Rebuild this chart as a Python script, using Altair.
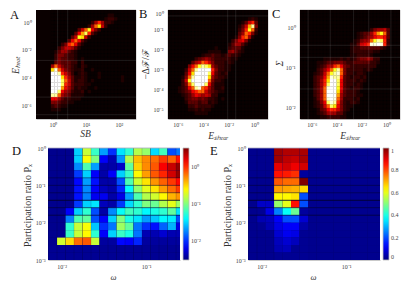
import altair as alt
import pandas as pd

FONT = "Liberation Serif"
HOT_D = [0, 2, 5, 7.5, 11.5, 15.5]
HOT_R = ["#0a0000", "#380000", "#a00000", "#ff0000", "#ffff00", "#ffffff"]
JET_S = [0, 0.125, 0.375, 0.625, 0.875, 1]
JET_R = ["#00007f", "#0000ff", "#00ffff", "#ffff00", "#ff0000", "#7f0000"]

# Panel rows: row index -> (first column, intensities on a 0..20 scale)
A_ROWS = {
    1: (17, [1, 1]), 2: (16, [1, 2, 2, 1]), 3: (12, [2, 5, 8, 5, 2, 2, 1]),
    4: (11, [2, 5, 9, 11, 6, 2]), 5: (8, [3, 6, 9, 12, 7, 4, 2]),
    6: (7, [3, 7, 10, 13, 8, 3, 1]), 7: (6, [3, 6, 12, 11, 6, 2]),
    8: (5, [3, 7, 9, 7, 3, 1]), 9: (3, [2, 4, 8, 9, 7, 3, 1]),
    10: (2, [2, 4, 6, 6, 5, 3, 1]), 11: (1, [1, 3, 5, 5, 3, 2, 1]),
    12: (1, [2, 4, 4, 3, 2, 2, 1]), 13: (1, [2, 4, 3, 3, 2, 2, 1, 0, 1]),
    14: (1, [3, 4, 3, 3, 3, 2, 2, 0, 2]), 15: (0, [5, 9, 6, 4, 3, 3, 2, 1, 0, 2, 1]),
    16: (0, [11, 15, 9, 6, 4, 3, 2, 1, 1, 2, 0, 0, 1]),
    17: (0, [16, 19, 14, 8, 6, 4, 2, 0, 1, 2, 1, 0, 0, 0, 1]),
    18: (0, [19, 20, 18, 11, 8, 5, 3, 1, 1, 2, 1, 0, 0, 0, 1, 0, 0, 0, 0, 0, 0, 1]),
    19: (0, [20, 20, 20, 13, 9, 6, 3, 1, 2, 2, 1, 0, 1, 0, 0, 0, 0, 0, 0, 0, 0, 1]),
    20: (0, [20, 20, 19, 13, 8, 6, 3, 2, 2, 2, 1, 1]),
    21: (0, [20, 20, 17, 10, 7, 5, 3, 1, 2, 1, 1, 0, 0, 1]),
    22: (0, [18, 18, 13, 7, 5, 4, 2, 1, 1, 2, 0, 1]),
    23: (0, [14, 14, 9, 5, 4, 3, 1, 1, 1, 1]), 24: (0, [7, 7, 5, 3, 2, 2, 1, 1, 1]),
    25: (0, [4, 4, 3, 2, 2, 1, 1]), 26: (0, [2, 3, 2, 1, 1]), 27: (0, [1, 1, 1]),
}
B_ROWS = {
    2: (24, [1, 2, 1]), 3: (22, [1, 3, 6, 8, 3]), 4: (21, [1, 3, 6, 10, 14, 4]),
    5: (21, [2, 4, 8, 12, 9, 2]), 6: (21, [3, 5, 9, 8, 4, 1]), 7: (20, [1, 4, 8, 9, 5, 1]),
    8: (19, [2, 4, 6, 7, 4, 1]), 9: (18, [1, 3, 5, 5, 3, 1]),
    10: (14, [1, 0, 0, 0, 2, 3, 3, 3, 1]), 11: (12, [1, 1, 1, 1, 0, 0, 4, 5, 3, 2, 1]),
    12: (10, [1, 2, 2, 3, 2, 2, 1, 2, 3, 2, 2, 1]),
    13: (8, [2, 3, 4, 5, 4, 3, 2, 2, 2, 2, 2, 1, 1]),
    14: (7, [3, 5, 6, 9, 8, 6, 4, 2, 2, 2, 1, 2, 1]),
    15: (6, [4, 7, 9, 12, 14, 13, 11, 5, 3, 2, 2, 1, 1]),
    16: (5, [2, 6, 9, 14, 17, 18, 19, 17, 8, 4, 2, 2, 1, 1]),
    17: (5, [3, 7, 11, 16, 20, 20, 20, 13, 7, 3, 2, 1, 2]),
    18: (4, [1, 4, 9, 14, 19, 20, 20, 20, 11, 5, 3, 2, 2, 1]),
    19: (4, [2, 6, 12, 17, 20, 20, 20, 17, 9, 4, 2, 2, 1]),
    20: (4, [2, 4, 9, 13, 18, 20, 19, 13, 7, 3, 1, 1, 1]),
    21: (3, [1, 2, 3, 7, 9, 14, 15, 9, 8, 5, 3, 1, 1, 2]),
    22: (3, [1, 2, 3, 4, 7, 8, 9, 9, 6, 4, 3, 2, 1, 1]),
    23: (4, [1, 2, 3, 5, 7, 6, 5, 6, 5, 2, 2]),
    24: (5, [2, 3, 4, 4, 3, 4, 3, 2, 2, 1, 0, 1]),
    25: (5, [1, 3, 3, 3, 2, 3, 3, 1, 2, 1]), 26: (6, [2, 2, 3, 2, 2, 2, 2, 1]),
    27: (6, [1, 1, 2, 1, 2, 1, 1]), 28: (8, [1, 1, 1, 1]),
}
C_ROWS = {
    5: (21, [2, 4, 5, 5, 6, 3]), 6: (17, [1, 2, 3, 3, 5, 8, 10, 12, 9, 3]),
    7: (17, [1, 2, 3, 4, 5, 7, 8, 8, 7, 3]), 8: (16, [1, 2, 4, 5, 5, 9, 12, 14, 13, 8, 2]),
    9: (15, [1, 1, 3, 6, 7, 8, 15, 15, 16, 15, 8, 2]),
    10: (15, [1, 2, 2, 3, 3, 3, 3, 3, 3, 2, 1]), 11: (15, [1, 2, 2, 2, 2, 2, 2, 1, 1]),
    12: (15, [1, 1, 2, 2, 2, 2, 1]),
    13: (7, [1, 1, 1, 1, 1, 2, 1, 2, 1, 2, 3, 4, 4, 5, 4, 2, 2]),
    14: (5, [1, 1, 2, 3, 3, 4, 4, 4, 3, 2, 2, 3, 3, 3, 3, 3, 2, 2, 1]),
    15: (5, [1, 2, 3, 5, 5, 8, 9, 7, 4, 3, 2, 2, 2, 2, 2, 2, 2, 2]),
    16: (5, [2, 3, 5, 7, 9, 12, 14, 9, 4, 2, 2, 2, 2, 2, 1, 2, 1]),
    17: (4, [1, 2, 3, 6, 9, 12, 14, 15, 9, 4, 2, 2, 1, 2, 2, 1]),
    18: (4, [2, 3, 4, 7, 10, 15, 14, 14, 8, 3, 2, 1, 2, 2, 1, 2]),
    19: (4, [2, 3, 5, 8, 11, 17, 16, 13, 7, 3, 2, 2, 2, 1, 2, 1]),
    20: (4, [2, 3, 5, 8, 13, 18, 17, 13, 7, 3, 2, 2, 1, 2, 1]),
    21: (4, [2, 3, 5, 9, 15, 19, 17, 12, 7, 3, 2, 1, 2, 2, 1]),
    22: (4, [2, 3, 5, 9, 17, 20, 18, 11, 6, 3, 2, 2, 2, 1]),
    23: (4, [2, 3, 5, 9, 17, 20, 17, 10, 5, 3, 2, 2, 2, 1, 1]),
    24: (4, [1, 3, 5, 9, 15, 17, 15, 9, 5, 2, 2, 2, 1, 2]),
    25: (4, [1, 2, 4, 7, 13, 15, 14, 8, 4, 2, 1, 2, 2, 1]),
    26: (4, [1, 2, 3, 6, 9, 13, 11, 7, 4, 2, 1, 1]),
    27: (5, [1, 3, 4, 7, 8, 8, 6, 4, 2, 1]), 28: (5, [1, 2, 3, 5, 5, 5, 3, 3, 1]),
    29: (6, [1, 1, 2, 2, 2, 2, 1, 1]),
}
# Colour-bar positions (0..1) per row, top to bottom, 16 columns
D_ROWS = [
    [.015, .015, .015, .33, .57, .43, .28, .17, .35, .42, .55, .52, .34, .44, .2, .24],
    [.015, .015, .015, .33, .62, .5, .12, .05, .27, .55, .69, .74, .77, .82, .78, .86],
    [.015, .015, .015, .26, .45, .28, .04, .04, .07, .47, .67, .74, .79, .88, .93, .98],
    [.015, .015, .015, .18, .33, .12, .04, .12, .33, .43, .63, .72, .79, .84, .92, .98],
    [.015, .015, .015, .13, .28, .14, .04, .04, .2, .45, .58, .65, .73, .78, .82, .87],
    [.015, .015, .015, .14, .26, .12, .06, .04, .16, .38, .52, .6, .65, .72, .77, .82],
    [.015, .015, .015, .14, .25, .11, .11, .04, .1, .28, .45, .55, .58, .63, .7, .73],
    [.015, .015, .015, .18, .33, .35, .06, .04, .18, .34, .42, .5, .48, .55, .6, .53],
    [.015, .015, .12, .33, .42, .2, .04, .26, .38, .44, .42, .37, .4, .42, .47, .35],
    [.015, .015, .25, .45, .47, .2, .12, .33, .5, .4, .35, .28, .32, .37, .36, .2],
    [.015, .015, .42, .57, .62, .32, .17, .24, .53, .47, .24, .17, .14, .22, .3, .1],
    [.015, .015, .43, .57, .63, .42, .12, .33, .43, .4, .24, .05, .05, .08, .05, .05],
    [.015, .58, .66, .77, .79, .57, .03, .03, .13, .12, .16, .03, .03, .03, .03, .03],
    [.02] * 16,
    [.02] * 16,
]
# E values 0..1 per row; columns 3..6 (all others stay at the floor value)
E_HOT = [
    [.97, .95, .95, .96], [.97, .94, .93, .96], [.9, .92, .89, .92], [.86, .85, .83, .03],
    [.79, .77, .77, 1.0], [.72, .71, .7, .66], [.63, .63, .65, .2], [.52, .6, .86, .2],
    [.25, .38, .48, .03], [.12, .2, .2, .08], [.1, .12, .12, .04], [.08, .11, .1, .02],
    [.06, .08, .06, .02], [.05, .06, .02, .02], [.02, .02, .02, .02],
]
E_LEFT = {7: [.07, .07], 8: [.02, .1], 9: [.05, .06], 10: [.02, .05]}
E_FLOOR = .015

A_XT, A_YT = [1, 10, 100], [1, 1e-2, 1e-4, 1e-6]
B_XT, B_YT = [1e-6, 1e-4, 1e-2, 1], [1, 1e-1, 1e-2, 1e-3, 1e-4, 1e-5]
C_XT, C_YT = [1e-6, 1e-4, 1e-2, 1], [1, 1e-1, 1e-2]
DE_XT, DE_YT = [1e-2, 1e-1], [1, 1e-1, 1e-2, 1e-3]

A_HL, A_VL = [-2.77, -5.42, -6.69], [0.14, 0.445]
B_HL, B_VL = [-0.3], [-2.08, -1.45]
C_HL, C_VL = [-0.443, -0.746, -1.544], [-6.3, -4.52, -2.65, -1.43, 0.35]

SUP = "{'0':'⁰','1':'¹','2':'²','-1':'⁻¹','-2':'⁻²','-3':'⁻³','-4':'⁻⁴','-5':'⁻⁵','-6':'⁻⁶'}"
LOG_LABEL = "'10' + " + SUP + "['' + round(log(datum.value) / LN10)]"
EXP_LABEL = "'10' + " + SUP + "['' + datum.value]"


def axis(title, values, tx, ty, offset=0, size=9.5, style="italic", **kw):
    return alt.Axis(
        title=title, values=values, labelExpr=LOG_LABEL, ticks=False, grid=False,
        labelFont=FONT, labelFontSize=6, labelColor="#444", titleFont=FONT, titleFontSize=size,
        titleFontStyle=style,
        titleFontWeight="normal", titleColor="#333", titleX=tx, titleY=ty, titleBaseline="middle",
        titleAlign="center", domainColor="#bbbbbb", domainWidth=0.8, offset=offset, **kw,
    )


def letter(t, x, y):
    return alt.Chart(pd.DataFrame({"t": [t]})).mark_text(
        font=FONT, fontSize=12.5, align="left", baseline="alphabetic", color="#111"
    ).encode(x=alt.value(x), y=alt.value(y), text="t:N")


def heat_panel(rows, name, x_dom, y_dom, x0, dx, ncols, xt, yt, hl, vl, xtitle, ytitle, xax, yax,
               flush=False, ystyle="italic"):
    recs = []
    for r in range(30):
        start, vals = rows.get(r, (0, []))
        for c in range(ncols):
            v = vals[c - start] if start <= c < start + len(vals) else 0
            recs.append({
                "x0": 10 ** (x0 + dx * c), "x1": 10 ** (x0 + dx * (c + 1)),
                "y0": 10 ** (y_dom[0] - (y_dom[0] - y_dom[1]) * r / 30),
                "y1": 10 ** (y_dom[0] - (y_dom[0] - y_dom[1]) * (r + 1) / 30),
                "v": v,
            })
    xs = alt.Scale(type="log", domain=[10 ** x_dom[0], 10 ** x_dom[1]], nice=False, clamp=True)
    ys = alt.Scale(type="log", domain=[10 ** y_dom[1], 10 ** y_dom[0]], nice=False, clamp=True)
    cs = alt.Scale(type="linear", domain=HOT_D, range=HOT_R, clamp=True, interpolate="rgb")
    xa = axis(xtitle, xt, xax[0], xax[1])
    extra = {"labelFlush": 3} if flush else {}
    ya = axis(ytitle, yt, yax[0], yax[1], style=ystyle, domain=False, labelPadding=yax[2], **extra)
    rect = alt.Chart(pd.DataFrame(recs)).mark_rect(strokeWidth=0.25).encode(
        x=alt.X("x0:Q", scale=xs, axis=xa),
        x2="x1:Q",
        y=alt.Y("y0:Q", scale=ys, axis=ya),
        y2="y1:Q",
        color=alt.Color("v:Q", scale=cs, legend=None),
        stroke=alt.Stroke("v:Q", scale=cs, legend=None),
    )
    h = alt.Chart(pd.DataFrame({"y0": [10 ** v for v in hl]})).mark_rule(
        color="#ffffff", opacity=0.13, strokeWidth=0.8
    ).encode(y=alt.Y("y0:Q", scale=ys, axis=ya))
    v = alt.Chart(pd.DataFrame({"x0": [10 ** v for v in vl]})).mark_rule(
        color="#ffffff", opacity=0.13, strokeWidth=0.8
    ).encode(x=alt.X("x0:Q", scale=xs, axis=xa))
    return alt.layer(rect, h, v, name).properties(
        width=100, height=109, view=alt.ViewConfig(fill="#0a0000", stroke=None)
    )


def jet_panel(values, left, title_x, legend, domain, cells_extra, ylab_x, name):
    x_rng = [left, left + 132]
    xs = alt.Scale(type="log", domain=[10 ** -2.162, 10 ** -0.6], range=x_rng, nice=False, clamp=True)
    ys = alt.Scale(type="log", domain=[1e-3, 1], nice=False)
    xa = axis("ω", DE_XT, title_x, 16, size=8.5, labelPadding=3)
    ya = axis("Participation ratio Pₓ", DE_YT, ylab_x, 57, offset=-left, size=10, style="normal",
              domain=False, labelPadding=3)
    recs = []
    for r, row in enumerate(values):
        for c, v in enumerate(row):
            recs.append({
                "x0": 10 ** (-2.156 + 0.1006 * c), "x1": 10 ** (-2.156 + 0.1006 * (c + 1)),
                "y0": 10 ** (-r / 5), "y1": 10 ** (-(r + 1) / 5), "v": v,
            })
    cs = alt.Scale(type="linear", domain=domain, range=JET_R, interpolate="rgb")
    under = alt.Chart(pd.DataFrame({"n": [0]})).mark_rect(color="#00006a").encode(
        x=alt.value(x_rng[0]), x2=alt.value(x_rng[1]), y=alt.value(0), y2=alt.value(112),
    )
    rect = alt.Chart(pd.DataFrame(recs)).mark_rect(strokeWidth=0).encode(
        x=alt.X("x0:Q", scale=xs, axis=xa),
        x2="x1:Q",
        y=alt.Y("y0:Q", scale=ys, axis=ya),
        y2="y1:Q",
        color=alt.Color("v:Q", scale=cs, legend=legend),
    )
    hr = pd.DataFrame({"y0": [10 ** (-r / 5) for r in [4, 5, 6, 7, 8, 9]], "o": [.5, .5, .5, .95, .6, .7]})
    hrule = alt.Chart(hr).mark_rule(color="#000020", strokeWidth=0.8).encode(
        y=alt.Y("y0:Q", scale=ys, axis=ya), x=alt.value(x_rng[0]), x2=alt.value(x_rng[1]),
        opacity=alt.Opacity("o:Q", scale=None),
    )
    vr = pd.DataFrame({"x0": [10 ** (-2.156 + 0.1006 * c) for c in cells_extra]})
    vrule = alt.Chart(vr).mark_rule(color="#000020", strokeWidth=0.6, opacity=0.25).encode(
        x=alt.X("x0:Q", scale=xs, axis=xa), y=alt.value(0), y2=alt.value(112),
    )
    top = alt.Chart(pd.DataFrame({"n": [0]})).mark_rule(color="#a8a8c0", strokeWidth=0.8).encode(
        x=alt.value(x_rng[0]), x2=alt.value(x_rng[1]), y=alt.value(0),
    )
    return alt.layer(under, rect, hrule, vrule, top, name).properties(
        width=100, height=112, view=alt.ViewConfig(stroke=None)
    )


def cbar(x, values, label_expr=None, fmt=None):
    kw = dict(
        orient="none", legendX=x, legendY=0, title=None, type="gradient", gradientLength=112,
        gradientThickness=6, values=values, labelFont=FONT, labelFontSize=6, labelColor="#444",
        gradientStrokeColor="#bbbbbb", gradientStrokeWidth=0.8, labelOffset=2,
    )
    if label_expr:
        kw["labelExpr"] = label_expr
    if fmt:
        kw["format"] = fmt
    return alt.Legend(**kw)


chart_a = heat_panel(A_ROWS, letter("A", -26, 9), (-0.515, 2.515), (0.87, -7), -0.06, 0.101, 26,
                     A_XT, A_YT, A_HL, A_VL, "SB", "Eₕₑₐₜ", (49, 14), (-21, 55, 5))
chart_b = heat_panel(B_ROWS, letter("B", -29, 8), (-6.76, 1.08), (0, -5.5), -6.76, 0.2613, 30,
                     B_XT, B_YT, B_HL, B_VL, "Eₛₕₑₐᵣ", "−Δℱ/ℱ", (50, 16), (-23, 54, 5),
                     flush=True, ystyle="normal")
chart_c = heat_panel(C_ROWS, letter("C", -28, 8), (-6.95, 1.08), (0.446, -2.3), -6.95, 0.2677, 30,
                     C_XT, C_YT, C_HL, C_VL, "Eₛₕₑₐᵣ", "Σ", (50, 16), (-21, 53, 5))

D_VALUES = [[-2.5 + 3 * p for p in row] for row in D_ROWS]
E_VALUES = []
for r, hot in enumerate(E_HOT):
    row = [E_FLOOR] * 16
    row[3:7] = hot
    for i, v in enumerate(E_LEFT.get(r, [])):
        row[1 + i] = v
    E_VALUES.append(row)

chart_d = jet_panel(
    D_VALUES, 12, 77,
    cbar(147, [0, -1, -2], label_expr=EXP_LABEL),
    [-2.5 + 3 * s for s in JET_S], list(range(1, 16)), -21,
    letter("D", -24, 7),
)
chart_e = jet_panel(
    E_VALUES, 80, 145,
    cbar(215, [0, 0.2, 0.4, 0.6, 0.8, 1], fmt="~g"),
    JET_S, [1, 3], -21,
    letter("E", 42, 7),
)

chart = alt.ConcatChart(
    concat=[chart_a, chart_b, chart_c, chart_d, chart_e],
    columns=3, spacing={"row": 29, "column": 32}, bounds="flush",
).resolve_scale(color="independent", stroke="independent").properties(
    padding={"left": 2, "top": 0, "right": 0, "bottom": 0}, background="white"
)

chart.save("out.html", embed_options={"renderer": "svg", "actions": False})
